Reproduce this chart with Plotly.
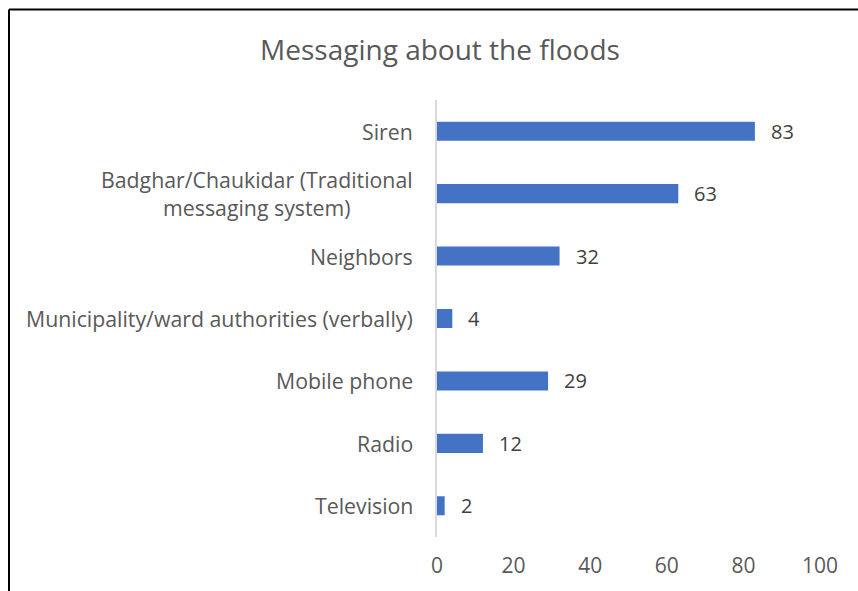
import plotly.graph_objects as go

# Sources of flood warnings and how many respondents cited each
categories = [
    "Siren",
    "Badghar/Chaukidar (Traditional<br>messaging system)",
    "Neighbors",
    "Municipality/ward authorities (verbally)",
    "Mobile phone",
    "Radio",
    "Television",
]
counts = [83, 63, 32, 4, 29, 12, 2]
x_ticks = [0, 20, 40, 60, 80, 100]

FONT = "'Open Sans', sans-serif"
TEXT = "#595959"
BAR = "#4472C4"

fig = go.Figure(
    go.Bar(
        x=counts,
        y=categories,
        orientation="h",
        marker=dict(color=BAR, line=dict(width=0)),
        hoverinfo="skip",
    )
)

# value labels beside each bar
for c, v in zip(categories, counts):
    fig.add_annotation(
        x=v, y=c, xref="x", yref="y", text=str(v), showarrow=False,
        xanchor="left", xshift=14, font=dict(family=FONT, size=20, color="#404040"),
    )

# category labels, centred line by line like the source chart
for c in categories:
    fig.add_annotation(
        x=0, y=c, xref="paper", yref="y", text=c, showarrow=False,
        xanchor="right", align="center", xshift=-22,
        font=dict(family=FONT, size=21.3, color=TEXT),
    )

# chart frame (top and left edges only)
fig.add_shape(type="line", xref="paper", yref="paper",
              x0=-1.1175, x1=1.12, y0=1.207, y1=1.207,
              line=dict(color="black", width=2))
fig.add_shape(type="line", xref="paper", yref="paper",
              x0=-1.1175, x1=-1.1175, y0=1.207, y1=-0.13,
              line=dict(color="black", width=2))

fig.update_layout(
    width=858,
    height=591,
    margin=dict(l=437, r=38, t=100, b=54),
    paper_bgcolor="white",
    plot_bgcolor="white",
    showlegend=False,
    bargap=0.695,
    title=dict(
        text="Messaging about the floods",
        x=440 / 858, xanchor="center",
        y=1 - 50 / 591, yanchor="middle",
        font=dict(family=FONT, size=28, color=TEXT),
    ),
    xaxis=dict(
        range=[0, 100],
        tickvals=x_ticks,
        showgrid=False,
        zeroline=False,
        showline=False,
        ticks="",
        ticklabelstandoff=14,
        tickfont=dict(family=FONT, size=21, color=TEXT),
    ),
    yaxis=dict(
        categoryorder="array",
        categoryarray=categories[::-1],
        showticklabels=False,
        showgrid=False,
        zeroline=False,
        showline=True,
        linecolor="#d9d9d9",
        linewidth=2,
        ticks="",
    ),
)

fig.write_html("out.html")
